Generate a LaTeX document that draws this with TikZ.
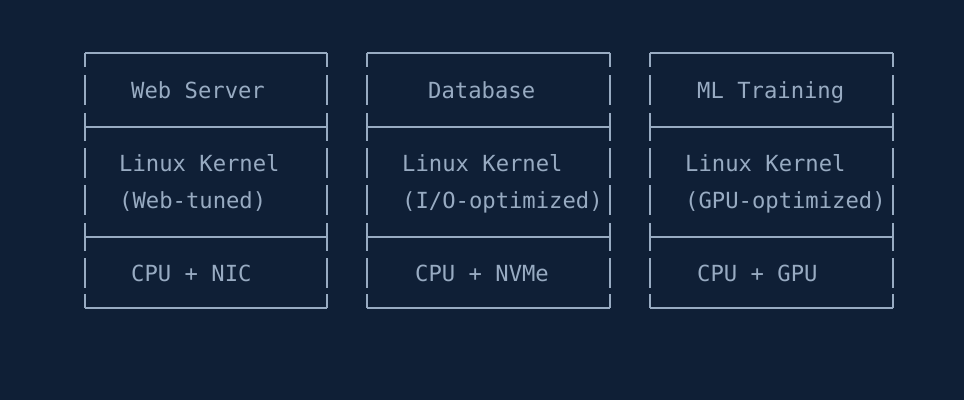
\documentclass[tikz,border=0pt]{standalone}
\usepackage{fontspec}
\setmonofont{DejaVu Sans Mono}
\definecolor{bgnavy}{HTML}{0F1F36}
\definecolor{inkgray}{HTML}{98ABC2}
\tikzset{
    txt/.style={anchor=base west,inner sep=0pt,text=inkgray,font=\ttfamily\fontsize{22.2}{22.2}\selectfont},
    rule/.style={draw=inkgray,line width=1.3pt}
}
\begin{document}
\begin{tikzpicture}[x=1pt,y=-1pt]
	\fill[bgnavy] (0,0) rectangle (964,400);
	\useasboundingbox (0,0) rectangle (964,400);

	% three stacks: left edge / right edge
	\foreach \l/\r in {85/327,367/610,650/893}{
		% horizontal rules
		\foreach \y in {53,127,237,308}
			\draw[rule] (\l,\y) -- (\r,\y);
		% broken side rules
		\foreach \x in {\l,\r}{
			\draw[rule] (\x,53) -- (\x,67);
			\foreach \y in {90,163,200,273}
				\draw[rule] (\x,\y-15) -- (\x,\y+15);
			\foreach \y in {127,237}
				\draw[rule] (\x,\y-14) -- (\x,\y+14);
			\draw[rule] (\x,294) -- (\x,308);
		}
	}

	% labels
	\node[txt] (webtop) at (131,98) {Web Server};
	\node[txt] (webk1) at (119,171) {Linux Kernel};
	\node[txt] (webk2) at (119,208) {(Web-tuned)};
	\node[txt] (webhw) at (131,281) {CPU + NIC};

	\node[txt] (dbtop) at (428,98) {Database};
	\node[txt] (dbk1) at (402,171) {Linux Kernel};
	\node[txt] (dbk2) at (402,208) {(I/O-optimized)};
	\node[txt] (dbhw) at (415,281) {CPU + NVMe};

	\node[txt] (mltop) at (697,98) {ML Training};
	\node[txt] (mlk1) at (685,171) {Linux Kernel};
	\node[txt] (mlk2) at (685,208) {(GPU-optimized)};
	\node[txt] (mlhw) at (697,281) {CPU + GPU};
\end{tikzpicture}
\end{document}
